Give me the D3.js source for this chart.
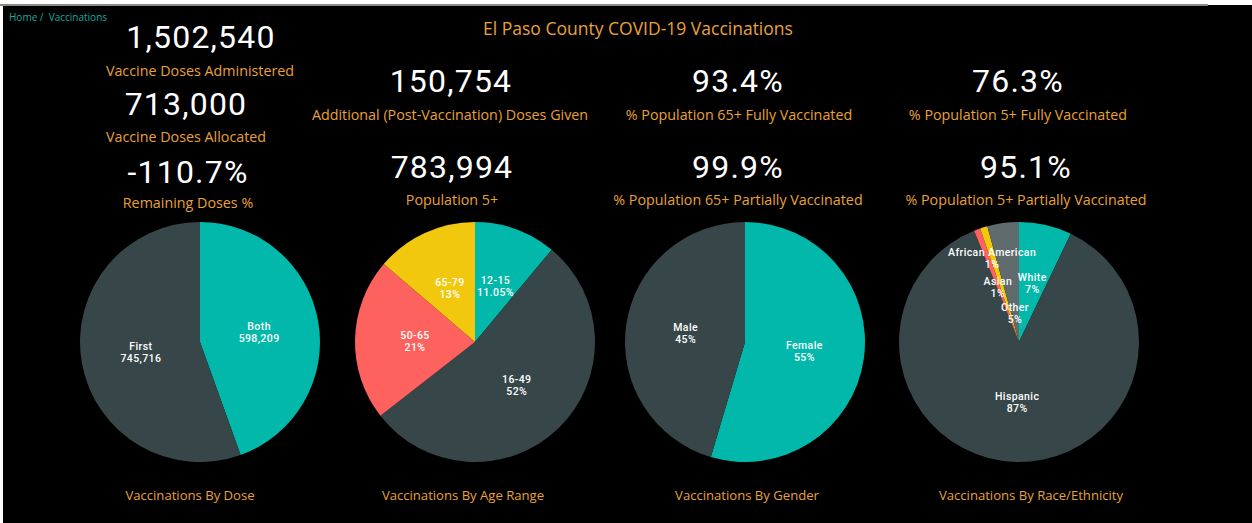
<!DOCTYPE html>
<html lang="en">
<head>
<meta charset="UTF-8">
<title>El Paso County COVID-19 Vaccinations</title>
<style>
html,body{margin:0;width:1252px;height:523px;overflow:hidden;background:#fff;}
svg{display:block;}
.val{font-family:Roboto,"DejaVu Sans",sans-serif;fill:#fff;font-size:32px;letter-spacing:1.2px;}
.lbl{font-family:"Open Sans","Noto Sans",sans-serif;fill:#E8A23A;font-size:14.3px;}
.ptitle{font-family:"Open Sans","Noto Sans",sans-serif;fill:#E8A23A;font-size:13.1px;}
.plbl{font-family:Roboto,sans-serif;fill:#fff;font-size:10.5px;font-weight:500;letter-spacing:.4px;}
</style>
</head>
<body>
<svg width="1252" height="523"></svg>
<script src="https://d3js.org/d3.v7.min.js"></script>
<script>
// KPI cards
const kpiValues=["1,502,540","713,000","-110.7%","150,754","783,994","93.4%","99.9%","76.3%","95.1%"];
const kpiLabels=["Vaccine Doses Administered","Vaccine Doses Allocated","Remaining Doses %",
  "Additional (Post-Vaccination) Doses Given","Population 5+",
  "% Population 65+ Fully Vaccinated","% Population 65+ Partially Vaccinated",
  "% Population 5+ Fully Vaccinated","% Population 5+ Partially Vaccinated"];

// pies
const doseCats=["Both","First"];
const doseValues=[598209,745716];
const ageCats=["12-15","16-49","50-65","65-79"];
const ageValues=[11.05,53.4,21.8,13.75];
const ageLabels=["11.05%","52%","21%","13%"];
const genderCats=["Female","Male"];
const genderValues=[54.6,45.4];
const genderLabels=["55%","45%"];
const raceCats=["White","Hispanic","African American","Asian","Other"];
const raceValues=[7.1,86.8,0.85,1.0,4.25];
const raceLabels=["7%","87%","1%","1%","5%"];
const pieTitles=["Vaccinations By Dose","Vaccinations By Age Range","Vaccinations By Gender","Vaccinations By Race/Ethnicity"];

const palette=["#01B8AA","#374649","#FD625E","#F2C80F","#5F6B6D"];

const svg=d3.select("svg");
svg.append("rect").attr("x",3).attr("y",5).attr("width",1249).attr("height",518).attr("fill","#000");
svg.append("rect").attr("x",0).attr("y",4).attr("width",1208).attr("height",2).attr("fill","#8a8a8a");

svg.append("text").attr("x",9).attr("y",21)
  .style("font-family","'Open Sans',sans-serif").style("font-size","10px").attr("fill","#1AA9A0")
  .text("Home /\u00a0\u00a0Vaccinations");

svg.append("text").attr("x",638).attr("y",35).attr("text-anchor","middle")
  .attr("class","lbl").style("font-size","17.5px")
  .text("El Paso County COVID-19 Vaccinations");

// card placement: [value x, value baseline, label x, label baseline]
const cardPos=[[201,48,200,76],[186,115,186,142],[188,183,188,208],
  [451,92,450,120],[452,178,452,205],
  [738,92,739,120],[738,178,738,205],
  [1018,92,1018,120],[1026,178,1026,205]];

const cards=svg.selectAll("g.card").data(kpiValues.map((v,i)=>({v,l:kpiLabels[i],p:cardPos[i]})))
  .join("g").attr("class","card");
cards.append("text").attr("class","val").attr("text-anchor","middle")
  .attr("x",d=>d.p[0]).attr("y",d=>d.p[1]).text(d=>d.v);
cards.append("text").attr("class","lbl").attr("text-anchor","middle")
  .attr("x",d=>d.p[2]).attr("y",d=>d.p[3]).text(d=>d.l);

const R=120;
const pie=d3.pie().sort(null).value(d=>d.value);
const arc=d3.arc().innerRadius(0).outerRadius(R);
const fmt=d3.format(",");

const charts=[
  {cx:200,tx:190,cats:doseCats,vals:doseValues,labs:doseValues.map(fmt)},
  {cx:475,tx:463,cats:ageCats,vals:ageValues,labs:ageLabels},
  {cx:745,tx:747,cats:genderCats,vals:genderValues,labs:genderLabels},
  {cx:1019,tx:1031,cats:raceCats,vals:raceValues,labs:raceLabels,
   // crowded thin slices get pushed in/out like the original
   adjust:{"African American":{r:88,a:-17.8},"Asian":{r:59,a:-21},"Other":{r:29,a:-8}}}
];

charts.forEach((c,ci)=>{
  const g=svg.append("g").attr("transform",`translate(${c.cx},342)`);
  const data=c.cats.map((k,i)=>({key:k,value:c.vals[i],lab:c.labs[i]}));
  const color=d3.scaleOrdinal().domain(c.cats).range(palette);
  const arcs=pie(data);
  g.selectAll("path").data(arcs).join("path")
    .attr("d",arc).attr("fill",d=>color(d.data.key));
  const lg=g.selectAll("text").data(arcs).join("text").attr("class","plbl").attr("text-anchor","middle")
    .attr("transform",d=>{
      let r=R*0.5, a=(d.startAngle+d.endAngle)/2;
      const adj=c.adjust&&c.adjust[d.data.key];
      if(adj){r=adj.r;a=adj.a*Math.PI/180;}
      return `translate(${r*Math.sin(a)},${-r*Math.cos(a)})`;
    });
  lg.append("tspan").attr("x",0).attr("y",-2).text(d=>d.data.key);
  lg.append("tspan").attr("x",0).attr("y",10).text(d=>d.data.lab);
  svg.append("text").attr("class","ptitle").attr("text-anchor","middle")
    .attr("x",c.tx).attr("y",500).text(pieTitles[ci]);
});
</script>
</body>
</html>
